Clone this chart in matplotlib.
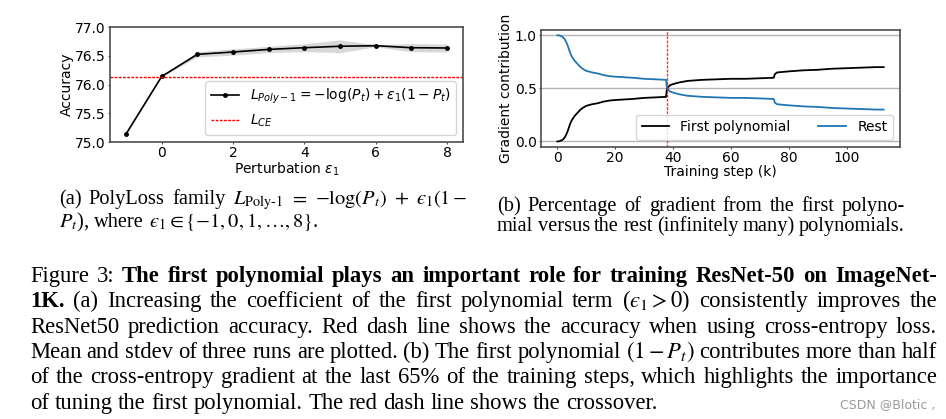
import matplotlib
matplotlib.use('Agg')
import matplotlib.pyplot as plt

W, H = 946, 419

# ---------------- data: (a) accuracy vs perturbation ----------------
eps = [-1, 0, 1, 2, 3, 4, 5, 6, 7, 8]
acc_mean = [75.14, 76.14, 76.525, 76.565, 76.61, 76.64, 76.665, 76.675, 76.64, 76.635]
acc_std = [0.01, 0.01, 0.045, 0.055, 0.055, 0.07, 0.11, 0.02, 0.07, 0.07]
ce_acc = 76.135
acc_yticks = [75.0, 75.5, 76.0, 76.5, 77.0]
acc_xticks = [0, 2, 4, 6, 8]

# ---------------- data: (b) gradient contribution ----------------
steps_k = [0, 0.5, 1.0, 1.5, 2.0, 2.5, 3.0, 3.5, 4.0, 4.5, 5.0, 6.0, 7.0, 8.0, 9.0,
           10, 12, 14, 16, 18, 20, 23, 26, 30, 34, 37.6, 37.8, 38.2, 39, 40, 42,
           45, 50, 55, 60, 65, 70, 74.8, 75.2, 76, 78, 80, 85, 90, 95, 100, 105,
           110, 112.8]
rest = [1.0, 1.0, 0.995, 0.99, 0.98, 0.965, 0.94, 0.91, 0.87, 0.83, 0.80, 0.76,
        0.73, 0.70, 0.68, 0.665, 0.65, 0.64, 0.625, 0.615, 0.61, 0.605, 0.60,
        0.59, 0.585, 0.58, 0.52, 0.49, 0.47, 0.46, 0.445, 0.43, 0.42, 0.415,
        0.41, 0.41, 0.405, 0.40, 0.365, 0.35, 0.345, 0.34, 0.33, 0.325, 0.315,
        0.31, 0.305, 0.30, 0.30]
first_poly = [0.0, 0.0, 0.005, 0.01, 0.02, 0.035, 0.06, 0.09, 0.13, 0.17, 0.20,
              0.24, 0.27, 0.30, 0.32, 0.335, 0.35, 0.36, 0.375, 0.385, 0.39,
              0.395, 0.40, 0.41, 0.415, 0.42, 0.48, 0.51, 0.53, 0.54, 0.555,
              0.57, 0.58, 0.585, 0.59, 0.59, 0.595, 0.60, 0.635, 0.65, 0.655,
              0.66, 0.67, 0.675, 0.685, 0.69, 0.695, 0.70, 0.70]
crossover_k = 37.8
grad_yticks = [0.0, 0.5, 1.0]
grad_xticks = [0, 20, 40, 60, 80, 100]

fig = plt.figure(figsize=(W / 100, H / 100), dpi=100)


def rect(l, t, r, b):
    return [l / W, 1 - b / H, (r - l) / W, (b - t) / H]


def style_axes(ax):
    ax.tick_params(labelsize=10, length=1.5, pad=1.5, color='0.3')
    for sp in ax.spines.values():
        sp.set_color('0.3')
        sp.set_linewidth(1.2)


# ---------------- left axes ----------------
ax1 = fig.add_axes(rect(110, 27, 463, 142))
lo = [m - s for m, s in zip(acc_mean, acc_std)]
hi = [m + s for m, s in zip(acc_mean, acc_std)]
ax1.fill_between(eps, lo, hi, color='0.5', alpha=0.3, linewidth=0)
ax1.plot(eps, acc_mean, color='black', marker='.', markersize=5, linewidth=1.2,
         label=r'$L_{Poly-1} = -\log(P_t) + \varepsilon_1(1 - P_t)$')
ax1.axhline(ce_acc, color='red', linestyle=(0, (2, 1)), linewidth=1, label=r'$L_{CE}$')
ax1.set_ylim(75.0, 77.0)
ax1.set_yticks(acc_yticks)
ax1.set_yticklabels(['%.1f' % v for v in acc_yticks])
ax1.set_xticks(acc_xticks)
style_axes(ax1)
ax1.set_xlabel(r'Perturbation $\varepsilon_1$', fontsize=10, labelpad=0)
ax1.set_ylabel('Accuracy', fontsize=10, labelpad=1)
ax1.legend(loc='lower right', fontsize=10)

# ---------------- right axes ----------------
ax2 = fig.add_axes(rect(541, 30, 900, 146.7))
ax2.set_yticks(grad_yticks)
ax2.yaxis.grid(True, color='0.7', linewidth=1)
ax2.set_axisbelow(True)
ax2.plot(steps_k, first_poly, color='black', linewidth=1.3, label='First polynomial')
ax2.plot(steps_k, rest, color='#1f77b4', linewidth=1.3, label='Rest')
ax2.axvline(crossover_k, color='red', linestyle=(0, (2, 1)), linewidth=1, alpha=0.8)
ax2.set_yticklabels(['%.1f' % v for v in grad_yticks])
ax2.set_xticks(grad_xticks)
style_axes(ax2)
ax2.set_xlabel('Training step (k)', fontsize=10, labelpad=0)
ax2.set_ylabel('Gradient contribution', fontsize=10, labelpad=1)
ax2.legend(loc='lower right', ncol=2, fontsize=10)

# ---------------- captions ----------------
renderer = fig.canvas.get_renderer()
SERIF = 'Liberation Serif'


def tokenize(text):
    toks, buf = [], None
    for p in text.split(' '):
        if p == '':
            continue
        buf = p if buf is None else buf + ' ' + p
        if buf.count('$') % 2 == 0:
            toks.append(buf)
            buf = None
    if buf:
        toks.append(buf)
    return toks


def measure(s, size, weight='normal'):
    t = fig.text(0, 0, s, fontsize=size, family=SERIF, weight=weight,
                 math_fontfamily='stix')
    w = t.get_window_extent(renderer).width
    t.remove()
    return w


def items_of(segments, size):
    out = []
    for s, wgt in segments:
        for tok in tokenize(s):
            out.append((tok, wgt, measure(tok, size, wgt)))
    return out


def space_w(size):
    return measure('x x', size) - measure('xx', size)


def natural_width(segments, size):
    it = items_of(segments, size)
    return sum(w for _, _, w in it) + space_w(size) * (len(it) - 1)


def draw_line(segments, x0, x1, y, size, justify=True, color='black'):
    it = items_of(segments, size)
    total = sum(w for _, _, w in it)
    if justify and len(it) > 1:
        gap = (x1 - x0 - total) / (len(it) - 1)
    else:
        gap = space_w(size)
    x = x0
    for tok, wgt, w in it:
        fig.text(x / W, 1 - y / H, tok, fontsize=size, family=SERIF, weight=wgt,
                 math_fontfamily='stix', ha='left', va='baseline', color=color)
        x += w + gap


N = 'normal'
B = 'bold'

cap_b = [
    [("(b) Percentage of gradient from the first polyno-", N)],
    [("mial versus the rest (infinitely many) polynomials.", N)],
]
cap_a = [
    [("(a) PolyLoss family", N),
     ("$L_{\\mathrm{Poly\u2010 1}}$", N), ("$=$", N), ("$-\\log(P_t)$", N),
     ("$+$", N), ("$\u03f5_1(1-$", N)],
    [("$P_t$), where $\u03f5_1 \\in \\{-1, 0, 1, \\ldots, 8\\}$.", N)],
]
main = [
    [("Figure 3:", N), ("The first polynomial plays an important role for training ResNet-50 on ImageNet-", B)],
    [("1K.", B), ("(a) Increasing the coefficient of the first polynomial term ($\u03f5_1 > 0$) consistently improves the", N)],
    [("ResNet50 prediction accuracy. Red dash line shows the accuracy when using cross-entropy loss.", N)],
    [("Mean and stdev of three runs are plotted. (b) The first polynomial $(1 - P_t)$ contributes more than half", N)],
    [("of the cross-entropy gradient at the last 65% of the training steps, which highlights the importance", N)],
    [("of tuning the first polynomial. The red dash line shows the crossover.", N)],
]

main_size = 10 * 627 / natural_width(main[-1], 10)
cap_size = 0.9 * main_size

draw_line(cap_a[0], 59, 468, 204, cap_size, True)
draw_line(cap_a[1], 59, 468, 227, cap_size, False)
draw_line(cap_b[0], 497, 905, 211, cap_size, True)
draw_line(cap_b[1], 497, 905, 231, cap_size, True)

for i, seg in enumerate(main):
    draw_line(seg, 30, 937 if i < len(main) - 1 else 657, 282 + 25.3 * i, main_size, True)

fig.text(935 / W, 1 - 408 / H, 'CSDN @Blotic ,', fontsize=9, color='0.6',
         ha='right', va='baseline', family='DejaVu Sans')

fig.savefig('out.png', dpi=100)
